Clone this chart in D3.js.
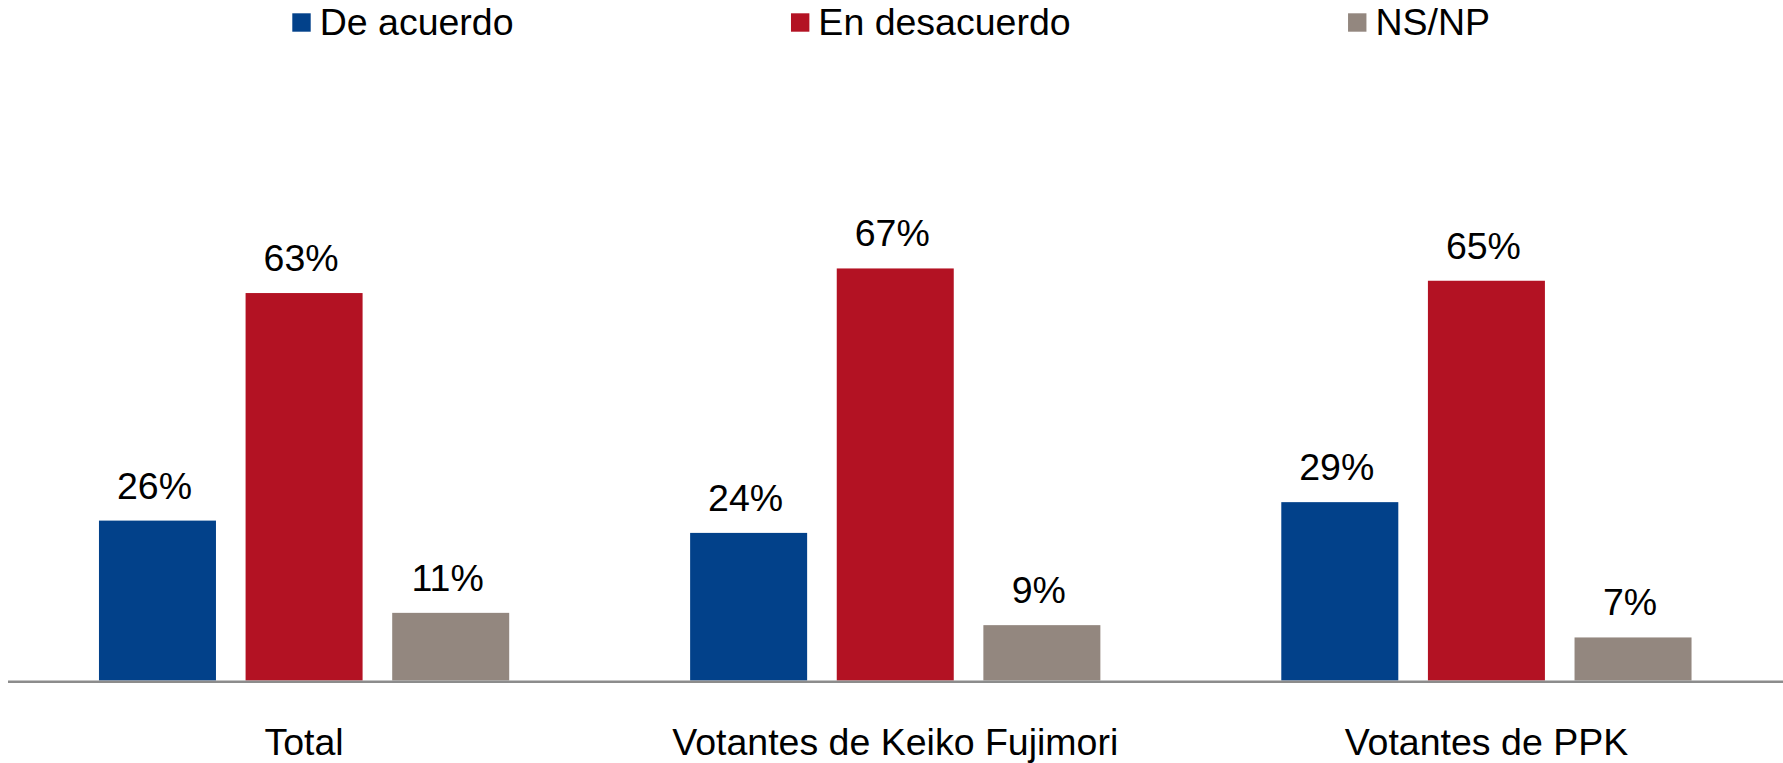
<!DOCTYPE html>
<html>
<head>
<meta charset="utf-8">
<script src="https://cdn.jsdelivr.net/npm/d3@7"></script>
<style>
  html, body { margin: 0; padding: 0; background: #ffffff; }
  svg { display: block; font-family: "Liberation Sans", Arial, sans-serif; }
</style>
</head>
<body>
<svg id="chart" width="1783" height="763"></svg>
<script>
const categories = ["Total", "Votantes de Keiko Fujimori", "Votantes de PPK"];
const seriesNames = ["De acuerdo", "En desacuerdo", "NS/NP"];
const deAcuerdo = [26, 24, 29];
const enDesacuerdo = [63, 67, 65];
const nsnp = [11, 9, 7];
const seriesColors = ["#02418A", "#B31223", "#93877F"];

const seriesValues = [deAcuerdo, enDesacuerdo, nsnp];
const data = categories.map((c, i) => ({
  category: c,
  values: seriesNames.map((s, j) => ({ series: s, value: seriesValues[j][i], color: seriesColors[j] }))
}));

const svg = d3.select("#chart");

const x0 = d3.scaleBand().domain(categories).range([8.5, 1782]).paddingInner(0).paddingOuter(0);
const x1 = d3.scaleBand().domain(seriesNames).range([0, x0.bandwidth()]).paddingInner(0.202).paddingOuter(0.617);
const y = d3.scaleLinear().domain([0, 100]).range([680.5, 65.5]);

const groups = svg.selectAll("g.group").data(data).enter().append("g")
  .attr("class", "group")
  .attr("transform", d => `translate(${x0(d.category)},0)`);

groups.selectAll("rect").data(d => d.values).enter().append("rect")
  .attr("x", d => x1(d.series))
  .attr("y", d => y(d.value))
  .attr("width", x1.bandwidth())
  .attr("height", d => y(0) - y(d.value))
  .attr("fill", d => d.color);

groups.selectAll("text.val").data(d => d.values).enter().append("text")
  .attr("class", "val")
  .attr("x", d => x1(d.series) + x1.bandwidth() / 2 - 3)
  .attr("y", d => y(d.value) - 22)
  .attr("text-anchor", "middle")
  .attr("font-size", 37.5)
  .attr("fill", "#000")
  .text(d => d.value + "%");

// baseline axis
const xAxis = d3.axisBottom(x0).tickSize(0).tickPadding(0);
const axisG = svg.append("g").attr("transform", `translate(0,${y(0) + 1.25})`).call(xAxis);
axisG.select(".domain").attr("stroke", "#8C8C8C").attr("stroke-width", 2.5)
  .attr("d", `M8,0H1783`);
axisG.selectAll(".tick text")
  .attr("font-size", 37.5)
  .attr("font-family", "Liberation Sans, Arial, sans-serif")
  .attr("fill", "#000")
  .attr("dy", null)
  .attr("y", 755 - (y(0) + 1.25));

// legend
const legend = svg.append("g").attr("class", "legend");
let lx = 292.3;
seriesNames.forEach((s, i) => {
  const g = legend.append("g").attr("transform", `translate(${lx},0)`);
  g.append("rect").attr("x", 0).attr("y", 13.3).attr("width", 18.4).attr("height", 18.4).attr("fill", seriesColors[i]);
  const t = g.append("text").attr("x", 27.4).attr("y", 35).attr("font-size", 37.5).attr("fill", "#000").text(s);
  const w = t.node().getComputedTextLength();
  lx += 27.4 + w + 277.4;
});
</script>
</body>
</html>
